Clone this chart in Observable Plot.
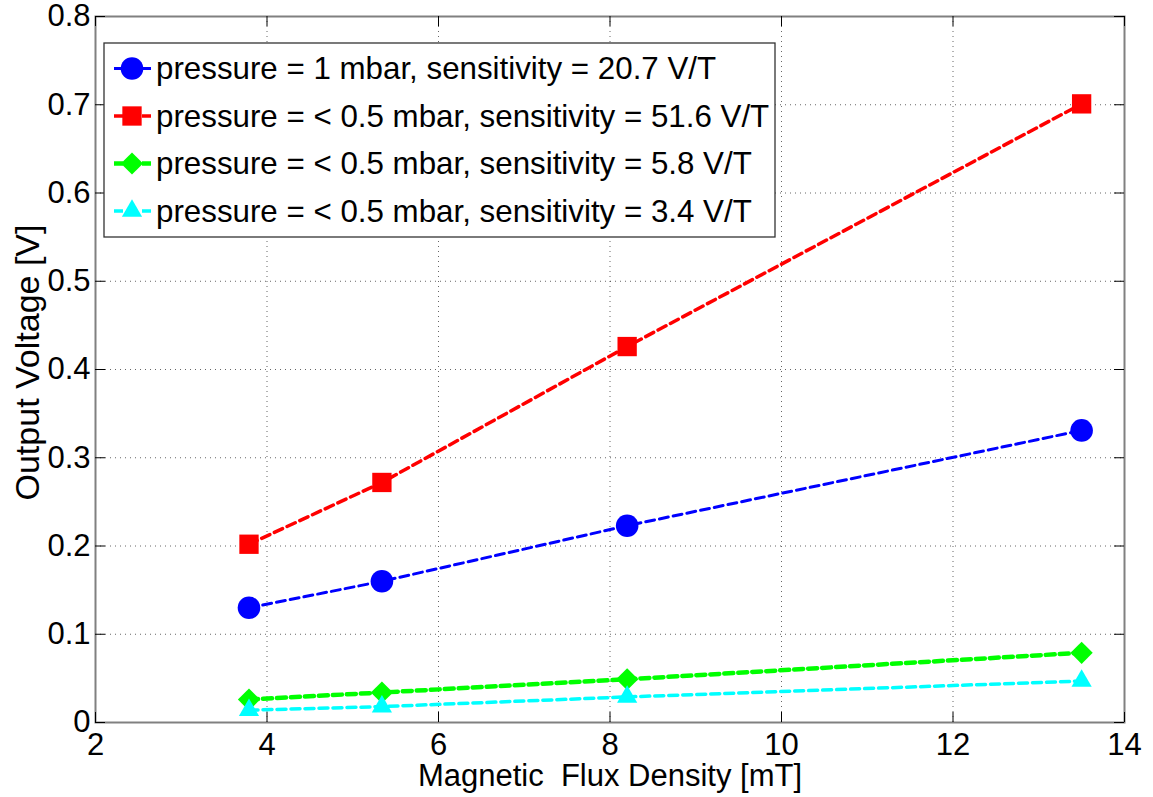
<!DOCTYPE html>
<html><head><meta charset="utf-8">
<script src="https://cdn.jsdelivr.net/npm/d3@7"></script>
<script src="https://cdn.jsdelivr.net/npm/@observablehq/plot@0.6"></script>
<style>
html,body{margin:0;padding:0;background:#fff;}
svg text{white-space:pre;}
</style></head><body><div id="chart"></div>
<script>
// ---- data ----
const flux = [3.79, 5.34, 8.2, 13.5];                 // Magnetic flux density [mT]
const v1mbar = [0.130, 0.160, 0.223, 0.331];          // pressure = 1 mbar, 20.7 V/T
const v516 = [0.202, 0.272, 0.426, 0.701];            // < 0.5 mbar, 51.6 V/T
const v58 = [0.026, 0.034, 0.049, 0.079];             // < 0.5 mbar, 5.8 V/T
const v34 = [0.014, 0.018, 0.029, 0.047];             // < 0.5 mbar, 3.4 V/T
const seriesLabels = [
  "pressure = 1 mbar, sensitivity = 20.7 V/T",
  "pressure = < 0.5 mbar, sensitivity = 51.6 V/T",
  "pressure = < 0.5 mbar, sensitivity = 5.8 V/T",
  "pressure = < 0.5 mbar, sensitivity = 3.4 V/T"
];
const xTicks = [2, 4, 6, 8, 10, 12, 14];
const yTicks = [0, 0.1, 0.2, 0.3, 0.4, 0.5, 0.6, 0.7, 0.8];
const yTickLabels = ["0", "0.1", "0.2", "0.3", "0.4", "0.5", "0.6", "0.7", "0.8"];
const xLabel = "Magnetic  Flux Density [mT]";
const yLabel = "Output Voltage [V]";

// ---- styles ----
const seriesValues = [v1mbar, v516, v58, v34];
const colors = ["#0000ff", "#ff0000", "#00ff00", "#00ffff"];
const symbols = ["circle", "square", "diamond2", "triangle"];
const radii = [11.3, 10.9, 10, 7.5];
const widths = [3, 3.5, 4.5, 3.5];
const dash = "9,5";
const d3sym = {circle: d3.symbolCircle, square: d3.symbolSquare, diamond2: d3.symbolDiamond2, triangle: d3.symbolTriangle};

const W = 1153, H = 797, mL = 95, mR = 29, mT = 16, mB = 75;
const plotW = W - mL - mR, plotH = H - mT - mB;
const font = "'Liberation Sans', Arial, Helvetica, sans-serif";

const tables = seriesValues.map((vals, k) => flux.map((x, i) => ({x, y: vals[i], series: seriesLabels[k]})));

function legend() {
  const g = d3.create("svg:g");
  g.append("rect").attr("x", 104).attr("y", 43).attr("width", 671).attr("height", 194)
    .attr("fill", "white").attr("stroke", "#333").attr("stroke-width", 1.3);
  seriesLabels.forEach((lab, i) => {
    const cy = 68.5 + i * 47.5;
    g.append("line").attr("x1", 114).attr("x2", 152).attr("y1", cy).attr("y2", cy)
      .attr("stroke", colors[i]).attr("stroke-width", widths[i]).attr("stroke-dasharray", dash);
    g.append("path").attr("transform", `translate(132,${cy})`)
      .attr("d", d3.symbol(d3sym[symbols[i]], Math.PI * radii[i] * radii[i])())
      .attr("fill", colors[i]);
    g.append("text").attr("x", 156).attr("y", cy).attr("dy", "0.35em")
      .attr("text-anchor", "start")
      .attr("font-size", 31.3).attr("fill", "black").text(lab);
  });
  return g.node();
}

const seriesMarks = tables.flatMap((t, k) => [
  Plot.line(t, {x: "x", y: "y", stroke: colors[k], strokeWidth: widths[k], strokeDasharray: dash}),
  Plot.dot(t, {x: "x", y: "y", symbol: symbols[k], r: radii[k], fill: colors[k], stroke: "none"})
]);

const chart = Plot.plot({
  width: W, height: H,
  marginLeft: mL, marginRight: mR, marginTop: mT, marginBottom: mB,
  style: {fontFamily: font, background: "white", color: "black"},
  x: {domain: [2, 14]},
  y: {domain: [0, 0.8]},
  marks: [
    Plot.gridX(xTicks, {stroke: "#000", strokeOpacity: 0.6, strokeDasharray: "1,4"}),
    Plot.gridY(yTicks, {stroke: "#000", strokeOpacity: 0.6, strokeDasharray: "1,4"}),
    Plot.frame({stroke: "#808080", strokeWidth: 2}),
    Plot.tickX(xTicks, {x: d => d, insetTop: plotH - 10, stroke: "black"}),
    Plot.tickX(xTicks, {x: d => d, insetBottom: plotH - 10, stroke: "black"}),
    Plot.tickY(yTicks, {y: d => d, insetRight: plotW - 10, stroke: "black"}),
    Plot.tickY(yTicks, {y: d => d, insetLeft: plotW - 10, stroke: "black"}),
    Plot.axisX(xTicks, {tickSize: 0, tickPadding: 10, fontSize: 31, label: null}),
    Plot.axisY(yTicks, {tickSize: 0, tickPadding: 5, fontSize: 31, label: null,
      tickFormat: d => yTickLabels[yTicks.indexOf(d)]}),
    ...seriesMarks,
    Plot.text([xLabel], {text: d => d, frameAnchor: "bottom", dy: 63, lineAnchor: "bottom", fontSize: 31, textAnchor: "middle"}),
    Plot.text([yLabel], {text: d => d, frameAnchor: "left", dx: -57, dy: -7, rotate: -90, lineAnchor: "bottom", fontSize: 34, textAnchor: "middle"}),
    legend
  ]
});
document.getElementById("chart").appendChild(chart);
</script>
</body></html>
